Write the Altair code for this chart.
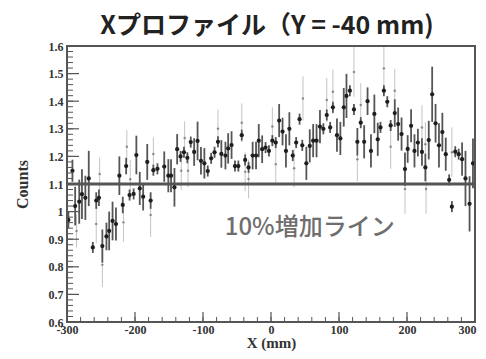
import altair as alt
import pandas as pd
import numpy as np

# ---- data ----
x_big = [-298, -292, -288, -282, -278, -273, -268, -262, -257, -253, -248, -242, -238, -233, -228,
         -223, -218, -213, -208, -202, -198, -193, -188, -182, -177, -173, -167, -157, -151, -147,
         -142, -138, -133, -128, -123, -118, -113, -108, -103, -98, -93, -88, -83, -78, -73,
         -67, -63, -58, -53, -48, -43, -38, -33, -27, -22, -18, -13, -8, -3, 2,
         7, 12, 17, 22, 27, 32, 37, 42, 46, 52, 57, 62, 67, 72, 77,
         82, 87, 91, 97, 102, 107, 111, 116, 122, 127, 132, 137, 142, 147, 152,
         157, 161, 166, 171, 176, 182, 187, 192, 197, 201, 206, 211, 216, 222, 227,
         232, 237, 242, 247, 252, 257, 262, 266, 271, 276, 281, 286, 292, 297]
y_big = [0.97, 1.148, 1.02, 1.036, 1.063, 1.05, 1.12, 0.87, 1.04, 1.05, 0.875, 0.91, 0.93, 0.966, 0.955,
         1.13, 1.024, 1.165, 1.06, 1.064, 1.205, 1.084, 1.054, 1.18, 1.04, 1.15, 1.155, 1.163, 1.13, 1.13,
         1.088, 1.226, 1.2, 1.215, 1.195, 1.252, 1.216, 1.256, 1.184, 1.175, 1.147, 1.193, 1.215, 1.253, 1.209,
         1.203, 1.229, 1.241, 1.165, 1.165, 1.277, 1.187, 1.16, 1.203, 1.203, 1.257, 1.226, 1.232, 1.22, 1.257,
         1.25, 1.33, 1.29, 1.22, 1.30, 1.203, 1.25, 1.335, 1.24, 1.175, 1.238, 1.257, 1.257, 1.308, 1.30,
         1.35, 1.305, 1.378, 1.277, 1.265, 1.378, 1.419, 1.438, 1.37, 1.253, 1.322, 1.253, 1.40, 1.22, 1.354,
         1.262, 1.305, 1.438, 1.398, 1.312, 1.357, 1.317, 1.281, 1.154, 1.227, 1.311, 1.22, 1.25, 1.216, 1.16,
         1.259, 1.425, 1.32, 1.24, 1.288, 1.208, 1.115, 1.018, 1.217, 1.208, 1.19, 1.12, 1.028, 1.175]
e_big = [0.03, 0.04, 0.07, 0.08, 0.09, 0.08, 0.10, 0.02, 0.03, 0.03, 0.06, 0.05, 0.07, 0.07, 0.06,
         0.07, 0.03, 0.03, 0.02, 0.02, 0.07, 0.06, 0.05, 0.065, 0.03, 0.02, 0.02, 0.055, 0.06, 0.06,
         0.07, 0.055, 0.02, 0.02, 0.02, 0.02, 0.05, 0.07, 0.05, 0.055, 0.02, 0.02, 0.02, 0.02, 0.05,
         0.05, 0.055, 0.05, 0.02, 0.02, 0.02, 0.02, 0.02, 0.05, 0.05, 0.06, 0.05, 0.02, 0.02, 0.02,
         0.02, 0.06, 0.05, 0.06, 0.06, 0.02, 0.02, 0.02, 0.02, 0.06, 0.06, 0.06, 0.06, 0.06, 0.02,
         0.02, 0.02, 0.02, 0.06, 0.06, 0.07, 0.08, 0.02, 0.02, 0.05, 0.02, 0.06, 0.05, 0.06, 0.07,
         0.06, 0.02, 0.02, 0.02, 0.02, 0.05, 0.06, 0.06, 0.06, 0.05, 0.06, 0.06, 0.05, 0.05, 0.05,
         0.07, 0.10, 0.07, 0.08, 0.07, 0.06, 0.02, 0.02, 0.02, 0.02, 0.06, 0.10, 0.10, 0.09]

x_small = [-286, -257, -252, -248, -217, -212, -207, -177, -173, -132, -127, -122, -78, -43, -38,
           -33, 2, 7, 34, 47, 82, 91, 122, 127, 132, 166, 176, 182, 197, 222, 227, 228, 266]
y_small = [0.93, 0.955, 1.136, 0.807, 0.961, 1.235, 1.117, 0.988, 1.209, 1.148, 1.267, 1.148, 1.30, 1.322, 1.144,
           1.118, 1.308, 1.172, 1.157, 1.41, 1.404, 1.434, 1.506, 1.19, 1.386, 1.519, 1.235, 1.438, 1.082, 1.305,
           1.244, 1.082, 1.215]
e_small = [0.06, 0.07, 0.06, 0.08, 0.07, 0.06, 0.07, 0.08, 0.06, 0.07, 0.06, 0.06, 0.07, 0.07, 0.07,
           0.07, 0.07, 0.07, 0.07, 0.08, 0.08, 0.08, 0.09, 0.08, 0.08, 0.09, 0.08, 0.08, 0.09, 0.08,
           0.08, 0.09, 0.09]

y_ticks = [0.6, 0.7, 0.8, 0.9, 1.0, 1.1, 1.2, 1.3, 1.4, 1.5, 1.6]
x_ticks = [-300, -200, -100, 0, 100, 200, 300]
ref_level = 1.1
title_text = "Xプロファイル（Y = -40 mm)"
note_text = "10%増加ライン"
note_pos = (-68, 0.94)

W, H = 408, 276
SERIF = "Liberation Serif"
CJK = "Noto Sans CJK JP"

xs = alt.Scale(domain=[-300, 300], nice=False, zero=False)
ys = alt.Scale(domain=[0.6, 1.6], nice=False, zero=False)

big = pd.DataFrame({"x": x_big, "y": y_big, "e": e_big})
big["lo"] = big["y"] - big["e"]
big["hi"] = big["y"] + big["e"]
small = pd.DataFrame({"x": x_small, "y": y_small, "e": e_small})
small["lo"] = small["y"] - small["e"]
small["hi"] = small["y"] + small["e"]

y_minor = pd.DataFrame({"v": np.round(np.arange(0.6, 1.6001, 0.02), 2)})
y_major = pd.DataFrame({"v": y_ticks})
x_minor = pd.DataFrame({"v": np.arange(-300, 301, 20)})
x_major = pd.DataFrame({"v": x_ticks})

x_axis = alt.Axis(values=x_ticks, labelExpr="'' + datum.value", title="X (mm)",
                  labelOverlap=False, labelFlush=False, grid=False, domain=False, ticks=False,
                  labelOffset={"condition": {"test": "datum.value == 300", "value": -8}, "value": 0},
                  labelFont=SERIF, labelFontWeight="bold", labelFontSize=12, labelColor="#333333",
                  labelPadding=2, titlePadding=0, titleFont=SERIF, titleFontWeight="bold",
                  titleFontSize=15, titleColor="#333333")
y_axis = alt.Axis(values=y_ticks, labelExpr="datum.value == 1 ? '1' : format(datum.value, '.1f')",
                  title="Counts", labelOverlap=False, labelFlush=False, grid=False, domain=False,
                  ticks=False, labelFont=SERIF, labelFontWeight="bold", labelFontSize=12,
                  labelColor="#333333", labelPadding=4, titlePadding=18, titleFont=SERIF,
                  titleFontWeight="bold", titleFontSize=16, titleColor="#333333")


def X(f):
    return alt.X(f, scale=xs, axis=x_axis)


def Y(f):
    return alt.Y(f, scale=ys, axis=y_axis)


err_small = alt.Chart(small).mark_rule(color="#c4c4c4", strokeWidth=1, clip=True).encode(
    x=X("x:Q"), y=Y("lo:Q"), y2="hi:Q"
)
pts_small = alt.Chart(small).mark_circle(color="#8a8a8a", size=6, opacity=1, clip=True).encode(
    x=X("x:Q"), y=Y("y:Q")
)
err_big = alt.Chart(big).mark_rule(color="#555555", strokeWidth=1.8, clip=True).encode(
    x=X("x:Q"), y=Y("lo:Q"), y2="hi:Q"
)
pts_big = alt.Chart(big).mark_circle(color="#1e1e1e", size=18, opacity=1, clip=True).encode(
    x=X("x:Q"), y=Y("y:Q")
)

ref = alt.Chart(pd.DataFrame({"v": [ref_level]})).mark_rule(color="#555555", strokeWidth=3).encode(
    y=Y("v:Q"), x=alt.value(0), x2=alt.value(W)
)

frame = alt.Chart(pd.DataFrame({"a": [0]})).mark_rect(filled=False, stroke="#555555", strokeWidth=2).encode(
    x=alt.value(0), x2=alt.value(W), y=alt.value(0), y2=alt.value(H)
)

ytm = alt.Chart(y_minor).mark_rule(color="#555555", strokeWidth=1).encode(
    y=Y("v:Q"), x=alt.value(0), x2=alt.value(6))
ytM = alt.Chart(y_major).mark_rule(color="#555555", strokeWidth=1.2).encode(
    y=Y("v:Q"), x=alt.value(0), x2=alt.value(12))
xtm = alt.Chart(x_minor).mark_rule(color="#555555", strokeWidth=1).encode(
    x=X("v:Q"), y=alt.value(H), y2=alt.value(H - 5))
xtM = alt.Chart(x_major).mark_rule(color="#555555", strokeWidth=1.2).encode(
    x=X("v:Q"), y=alt.value(H), y2=alt.value(H - 10))

note = alt.Chart(pd.DataFrame({"t": [note_text]})).mark_text(
    font=CJK, fontSize=24, fontWeight=500, color="#6e6e6e", align="left", baseline="middle"
).encode(
    text="t:N", x=X("xv:Q"), y=Y("yv:Q"),
).transform_calculate(xv=str(note_pos[0]), yv=str(note_pos[1]))

chart = alt.layer(
    err_small, pts_small, err_big, ref, pts_big, ytm, ytM, xtm, xtM, frame, note
).properties(
    width=W, height=H,
    background="white",
    title=alt.TitleParams(title_text, font=CJK, fontSize=25, fontWeight="bold", color="#222222",
                          anchor="middle", offset=1, dx=-4),
    autosize=alt.AutoSizeParams(type="none"),
    padding={"left": 59, "top": 38, "right": 3, "bottom": 29},
).configure_view(stroke=None)

chart.save("out.html", embed_options={"renderer": "svg", "actions": False})
